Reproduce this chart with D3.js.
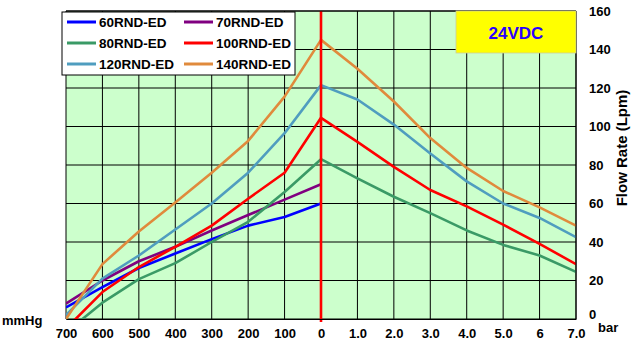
<!DOCTYPE html>
<html>
<head>
<meta charset="utf-8">
<script src="https://cdn.jsdelivr.net/npm/d3@7"></script>
<style>
  html, body { margin: 0; padding: 0; background: #ffffff; }
  svg { display: block; font-family: "Liberation Sans", Arial, sans-serif; font-weight: bold; }
</style>
</head>
<body>
<svg id="chart" width="633" height="348"></svg>
<script>
// Horizontal axis: vacuum (mmHg) on the left half, pressure (bar) on the right half
const xTickLabels = ["700", "600", "500", "400", "300", "200", "100", "0",
                     "1.0", "2.0", "3.0", "4.0", "5.0", "6", "7.0"];
const vacuumPoints = [700, 600, 500, 400, 300, 200, 100, 0];   // mmHg
const pressurePoints = [0, 1, 2, 3, 4, 5, 6, 7];               // bar
const yTicks = [0, 20, 40, 60, 80, 100, 120, 140, 160];        // Lpm

// Flow rate (Lpm) for each pump, on the vacuum side and on the pressure side
const seriesNames = ["60RND-ED", "70RND-ED", "80RND-ED", "100RND-ED", "120RND-ED", "140RND-ED"];
const seriesColors = ["#0000ff", "#800080", "#3a9a66", "#ff0000", "#4f9dbf", "#e08a3c"];
const vacuum60  = [6, 16.5, 26.5, 34, 41.5, 48.5, 53, 60];
const vacuum70  = [8, 20, 30, 37.5, 46, 54, 62, 70];
const vacuum80  = [-7, 8.5, 20.7, 29, 40, 50.5, 66, 83];
const vacuum100 = [-5, 14, 27, 37.5, 48.5, 62.5, 76, 104.5];
const vacuum120 = [2, 21, 33, 46.5, 60, 76, 96.5, 121.5];
const vacuum140 = [0, 28.5, 45.5, 60.5, 76, 92.5, 115.5, 145];
const pressure80  = [83, 73, 63.5, 55, 46, 38.5, 33, 24.5];
const pressure100 = [104.5, 92, 79, 67, 58.5, 49, 39, 28.5];
const pressure120 = [121.5, 114, 101, 86, 71.5, 60, 52.5, 42.5];
const pressure140 = [145, 130, 113, 94, 78.5, 66.5, 58, 48.5];
const vacuumSeries = [vacuum60, vacuum70, vacuum80, vacuum100, vacuum120, vacuum140];
const pressureSeries = [null, null, pressure80, pressure100, pressure120, pressure140];

const svg = d3.select("#chart");
const plot = { left: 66, right: 576, top: 11, bottom: 319 };

// index 0..14 along the shared horizontal axis
const x = d3.scaleLinear().domain([0, 14]).range([plot.left, plot.right]);
const y = d3.scaleLinear().domain([0, 160]).range([plot.bottom, plot.top]);
const vacIndex = v => (700 - v) / 100;
const barIndex = p => 7 + p;

svg.append("defs").append("clipPath").attr("id", "plotClip")
  .append("rect")
  .attr("x", plot.left).attr("y", plot.top)
  .attr("width", plot.right - plot.left).attr("height", plot.bottom - plot.top);

// background
svg.append("rect")
  .attr("x", plot.left).attr("y", plot.top)
  .attr("width", plot.right - plot.left).attr("height", plot.bottom - plot.top)
  .attr("fill", "#ccffcc");

// grid
const grid = svg.append("g").attr("stroke", "#000").attr("stroke-width", 1);
grid.selectAll("line.v").data(d3.range(0, 15)).join("line")
  .attr("class", "v")
  .attr("x1", d => x(d)).attr("x2", d => x(d))
  .attr("y1", plot.top).attr("y2", plot.bottom);
grid.selectAll("line.h").data(yTicks).join("line")
  .attr("class", "h")
  .attr("x1", plot.left).attr("x2", plot.right)
  .attr("y1", d => y(d)).attr("y2", d => y(d));

// curves
const line = d3.line().x(d => x(d[0])).y(d => y(d[1]));
const curves = svg.append("g").attr("clip-path", "url(#plotClip)");
seriesNames.forEach((name, i) => {
  let pts = vacuumPoints.map((v, k) => [vacIndex(v), vacuumSeries[i][k]]);
  if (pressureSeries[i]) {
    pts = pts.concat(pressurePoints.slice(1).map((p, k) => [barIndex(p), pressureSeries[i][k + 1]]));
  }
  curves.append("path")
    .attr("d", line(pts))
    .attr("fill", "none")
    .attr("stroke", seriesColors[i])
    .attr("stroke-width", 2.6)
    .attr("stroke-linejoin", "round");
});

// divider between vacuum and pressure sides
svg.append("line")
  .attr("x1", x(7)).attr("x2", x(7))
  .attr("y1", plot.top).attr("y2", plot.bottom + 3)
  .attr("stroke", "#ff0000").attr("stroke-width", 2.6);

// bottom axis
const xAxis = d3.axisBottom(x)
  .tickValues(d3.range(0, 15))
  .tickFormat(i => xTickLabels[i])
  .tickSize(0).tickPadding(10);
const gx = svg.append("g").attr("transform", `translate(0,${plot.bottom})`).call(xAxis);
gx.select(".domain").attr("stroke", "#000").attr("stroke-width", 1.2);
gx.selectAll("text").attr("font-size", 13).attr("font-weight", "bold")
  .attr("font-family", "Liberation Sans, Arial, sans-serif").attr("fill", "#000");

// right axis
const yAxis = d3.axisRight(y).tickValues(yTicks).tickSize(0).tickPadding(13);
const gy = svg.append("g").attr("transform", `translate(${plot.right},0)`).call(yAxis);
gy.select(".domain").remove();
gy.selectAll("text").attr("font-size", 13).attr("font-weight", "bold")
  .attr("font-family", "Liberation Sans, Arial, sans-serif").attr("fill", "#000");
gy.selectAll(".tick").filter(d => d === 0).select("text").attr("dy", "-0.05em");

// plot frame: top and right edges
svg.append("line").attr("x1", plot.left).attr("x2", plot.right)
  .attr("y1", plot.top).attr("y2", plot.top).attr("stroke", "#000");
svg.append("line").attr("x1", plot.right).attr("x2", plot.right)
  .attr("y1", plot.top).attr("y2", plot.bottom).attr("stroke", "#000");

// unit labels
svg.append("text").attr("x", 2).attr("y", 325).attr("font-size", 13).text("mmHg");
svg.append("text").attr("x", 598).attr("y", 332).attr("font-size", 13).text("bar");
svg.append("text")
  .attr("transform", "translate(627,148) rotate(-90)")
  .attr("text-anchor", "middle").attr("font-size", 15)
  .text("Flow Rate (Lpm)");

// voltage badge
svg.append("rect")
  .attr("x", 456).attr("y", plot.top).attr("width", plot.right - 456).attr("height", 42)
  .attr("fill", "#ffff00").attr("stroke", "#cccc99").attr("stroke-width", 0.8);
svg.append("text")
  .attr("x", 516).attr("y", 39).attr("text-anchor", "middle")
  .attr("font-size", 17).attr("fill", "#2a00ff")
  .text("24VDC");

// legend
const legend = svg.append("g");
legend.append("rect")
  .attr("x", 62).attr("y", 12).attr("width", 233).attr("height", 63)
  .attr("fill", "#fff").attr("stroke", "#000").attr("stroke-width", 1);
seriesNames.forEach((name, i) => {
  const col = i % 2, row = Math.floor(i / 2);
  const lx = col === 0 ? 67 : 184;
  const ly = 22 + row * 21;
  legend.append("line")
    .attr("x1", lx).attr("x2", lx + 29).attr("y1", ly).attr("y2", ly)
    .attr("stroke", seriesColors[i]).attr("stroke-width", 3);
  legend.append("text")
    .attr("x", lx + 32).attr("y", ly + 5)
    .attr("font-size", 13.5).attr("fill", "#000")
    .text(name);
});
</script>
</body>
</html>
